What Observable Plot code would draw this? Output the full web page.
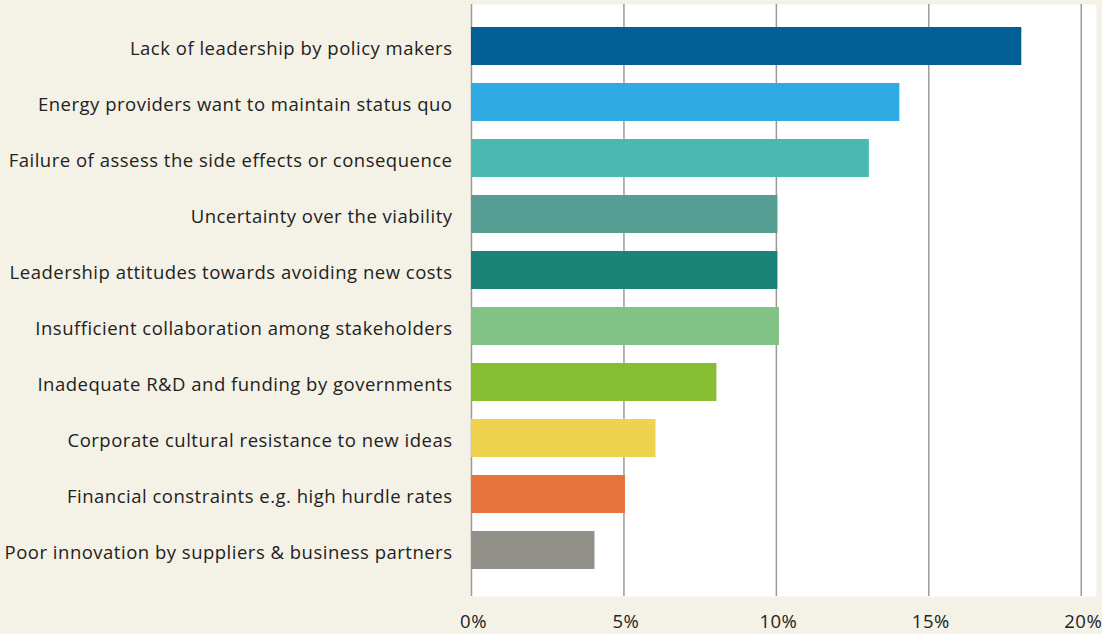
<!DOCTYPE html>
<html>
<head>
<meta charset="utf-8">
<script src="https://cdn.jsdelivr.net/npm/d3@7"></script>
<script src="https://cdn.jsdelivr.net/npm/@observablehq/plot@0.6"></script>
<style>
  html, body { margin: 0; padding: 0; background: #f4f1e6; }
  #chart svg { display: block; }
  #chart svg text { letter-spacing: 0.5px; }
</style>
</head>
<body>
<div id="chart"></div>
<script>
const categories = [
  "Lack of leadership by policy makers",
  "Energy providers want to maintain status quo",
  "Failure of assess the side effects or consequence",
  "Uncertainty over the viability",
  "Leadership attitudes towards avoiding new costs",
  "Insufficient collaboration among stakeholders",
  "Inadequate R&D and funding by governments",
  "Corporate cultural resistance to new ideas",
  "Financial constraints e.g. high hurdle rates",
  "Poor innovation by suppliers & business partners"
];
const values = [18.05, 14.05, 13.05, 10.05, 10.05, 10.1, 8.05, 6.05, 5.05, 4.05];
const colors = ["#015f96", "#2faae2", "#4ab9b2", "#569d94", "#1b8479", "#81c387", "#85bd33", "#efd24e", "#e6723c", "#929189"];
const xTicks = [0, 5, 10, 15, 20];

const data = categories.map((c, i) => ({category: c, value: values[i], color: colors[i]}));

const chart = Plot.plot({
  width: 1102,
  height: 634,
  marginLeft: 471,
  marginRight: 6,
  marginTop: 4,
  marginBottom: 38,
  style: {background: "#f4f1e6", fontFamily: "'Open Sans', sans-serif", fontSize: "18.5px", color: "#222"},
  x: {domain: [0, 20.5], ticks: xTicks, label: null},
  y: {domain: categories, range: [16.5, 579.5], paddingInner: 0.32, paddingOuter: 0.16, label: null},
  marks: [
    Plot.frame({fill: "white", stroke: null}),
    Plot.ruleX(xTicks, {stroke: "#9a9a96", strokeWidth: 1.5}),
    Plot.barX(data, {x: "value", y: "category", fill: "color"}),
    Plot.axisX(xTicks, {tickSize: 0, tickPadding: 18, tickFormat: d => d + "%", fontSize: 18.5, dx: 2, fill: "#222", label: null}),
    Plot.axisY({tickSize: 0, tickPadding: 19, fontSize: 18.5, dy: 3, fill: "#222", label: null})
  ]
});
document.getElementById("chart").appendChild(chart);
</script>
</body>
</html>
